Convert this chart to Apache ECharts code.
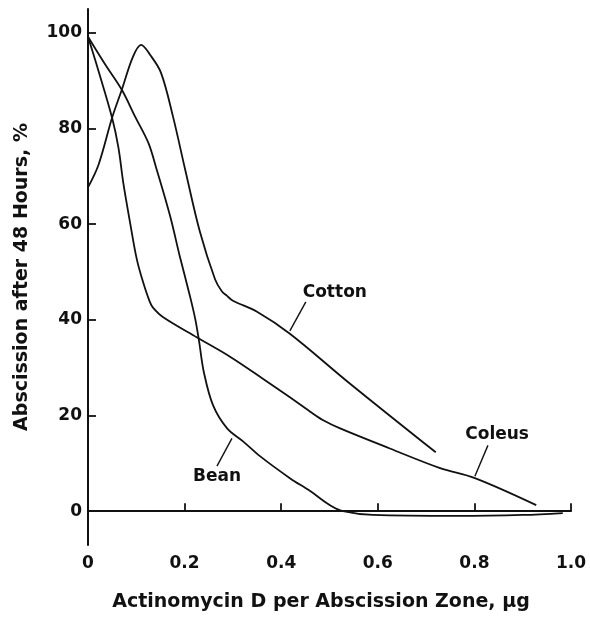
<!DOCTYPE html>
<html>
<head>
<meta charset="utf-8">
<script src="https://cdn.jsdelivr.net/npm/echarts@6/dist/echarts.min.js"></script>
<style>
  html, body { margin: 0; padding: 0; background: #fff; }
  #chart { width: 590px; height: 617px; }
</style>
</head>
<body>
<div id="chart"></div>
<script>
// abscission after 48 h vs actinomycin D dose
var xTicks = [0, 0.2, 0.4, 0.6, 0.8, 1.0];
var yTicks = [0, 20, 40, 60, 80, 100];

var cotton = [
  [0, 67.7], [0.022, 72.5], [0.05, 82.3], [0.07, 88.1], [0.093, 95.0],
  [0.11, 97.5], [0.128, 95.5], [0.151, 91.7], [0.176, 82.5], [0.201, 71.5],
  [0.232, 58.3], [0.263, 48.5], [0.277, 46.0], [0.288, 45.0], [0.30, 44.0],
  [0.35, 41.7], [0.418, 37.1], [0.542, 26.7], [0.72, 12.3]
];
var coleus = [
  [0, 99.2], [0.021, 92.3], [0.05, 82.2], [0.063, 76.0], [0.073, 68.7],
  [0.087, 60.4], [0.101, 52.7], [0.114, 47.9], [0.128, 43.75], [0.135, 42.5],
  [0.155, 40.6], [0.226, 36.3], [0.294, 32.3], [0.362, 27.7], [0.418, 23.8],
  [0.46, 20.8], [0.487, 19.0], [0.522, 17.3], [0.625, 13.1], [0.729, 9.0],
  [0.801, 6.9], [0.928, 1.25]
];
var bean = [
  [0, 99.2], [0.035, 93.5], [0.07, 88.1], [0.097, 82.6], [0.125, 77.0],
  [0.142, 71.5], [0.17, 61.7], [0.19, 53.3], [0.211, 45.0], [0.222, 40.2],
  [0.23, 35.5], [0.24, 29.0], [0.259, 22.1], [0.288, 17.3], [0.321, 14.6],
  [0.356, 11.5], [0.418, 6.9], [0.46, 4.2], [0.501, 1.25], [0.528, 0],
  [0.59, -0.8], [0.764, -1.0], [0.901, -0.8], [0.983, -0.4]
];

// curve names with where the text sits and the leader line to the curve
var labelNames = ['Cotton', 'Coleus', 'Bean'];
var labelAt = [[0.511, 45.6], [0.847, 16.0], [0.267, 7.3]];
var leaders = [
  [[0.451, 43.75], [0.418, 37.7]],
  [[0.828, 13.75], [0.801, 7.3]],
  [[0.267, 9.4], [0.298, 15.2]]
];

var font = 'DejaVu Sans';
var ink = '#111';

var myChart = echarts.init(document.getElementById('chart'));

var series = [];
[['Cotton', cotton], ['Coleus', coleus], ['Bean', bean]].forEach(function (s) {
  series.push({
    name: s[0],
    type: 'line',
    data: s[1],
    smooth: 0.35,
    symbol: 'none',
    lineStyle: { color: ink, width: 1.8 }
  });
});
leaders.forEach(function (l) {
  series.push({
    type: 'line',
    data: l,
    symbol: 'none',
    lineStyle: { color: ink, width: 1.4 }
  });
});
series.push({
  type: 'scatter',
  symbolSize: 0,
  itemStyle: { opacity: 1 },
  data: labelAt.map(function (p, i) {
    return { value: p, name: labelNames[i] };
  }),
  label: {
    show: true,
    position: 'inside',
    formatter: '{b}',
    color: ink,
    fontFamily: font,
    fontWeight: 'bold',
    fontSize: 17
  }
});

var option = {
  backgroundColor: '#fff',
  animation: false,
  grid: { left: 88, right: 19, top: 9, bottom: 70 },
  xAxis: {
    type: 'value',
    min: 0,
    max: 1,
    interval: 0.2,
    name: 'Actinomycin D per Abscission Zone, µg',
    nameLocation: 'middle',
    nameGap: 48,
    nameTextStyle: {
      color: ink, fontFamily: font, fontWeight: 'bold', fontSize: 19,
      padding: [0, 17, 0, 0]
    },
    axisLine: { lineStyle: { color: ink, width: 2 } },
    axisTick: { inside: true, length: 8, lineStyle: { color: ink, width: 1.8 } },
    axisLabel: {
      color: ink, fontFamily: font, fontWeight: 'bold', fontSize: 17, margin: 10,
      formatter: function (v) { return v === 0 ? '0' : v.toFixed(1); }
    },
    splitLine: { show: false }
  },
  yAxis: {
    type: 'value',
    min: -7.08,
    max: 105,
    name: 'Abscission after 48 Hours, %',
    nameLocation: 'middle',
    nameRotate: 90,
    nameGap: 56,
    nameTextStyle: { color: ink, fontFamily: font, fontWeight: 'bold', fontSize: 19 },
    axisLine: { lineStyle: { color: ink, width: 2 } },
    axisTick: {
      inside: true, length: 8, customValues: yTicks,
      lineStyle: { color: ink, width: 1.8 }
    },
    axisLabel: {
      color: ink, fontFamily: font, fontWeight: 'bold', fontSize: 17, margin: 6,
      customValues: yTicks
    },
    splitLine: { show: false }
  },
  series: series
};

myChart.setOption(option);
</script>
</body>
</html>
